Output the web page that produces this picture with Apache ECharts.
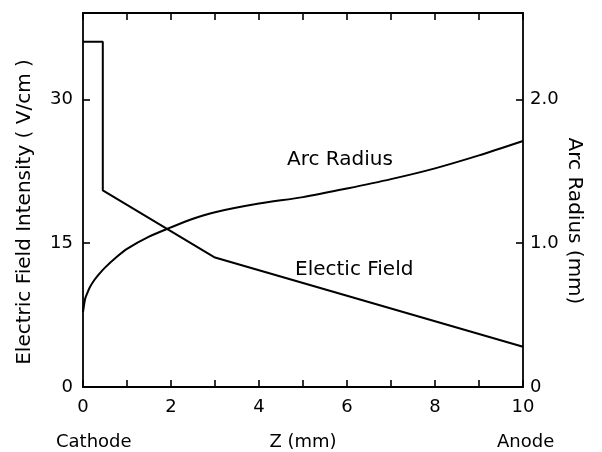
<!DOCTYPE html>
<html>
<head>
<meta charset="utf-8">
<script src="https://cdn.jsdelivr.net/npm/echarts@6/dist/echarts.min.js"></script>
<style>
  html, body { margin: 0; padding: 0; background: #fff; }
  #main { width: 602px; height: 452px; }
</style>
</head>
<body>
<div id="main"></div>
<script>
// electric field (V/cm) along z (mm)
var fieldZ = [0, 0.45, 0.45, 3, 10];
var fieldV = [36, 36, 20.5, 13.5, 4.2];
// arc radius (mm) along z (mm)
var radiusZ = [0, 0.05, 0.1, 0.15, 0.25, 0.35, 0.5, 0.75, 1, 1.5, 2, 2.5, 3, 4, 5, 6, 7, 8, 9, 10];
var radiusR = [0.52, 0.615, 0.655, 0.69, 0.74, 0.78, 0.83, 0.9, 0.96, 1.045, 1.11, 1.17, 1.215, 1.275, 1.32, 1.38, 1.445, 1.52, 1.61, 1.71];

var FONT = 'DejaVu Sans';
var myChart = echarts.init(document.getElementById('main'));

function pairs(xs, ys) {
    var out = [];
    for (var i = 0; i < xs.length; i++) out.push([xs[i], ys[i]]);
    return out;
}
function txt(size) {
    return size + 'px "' + FONT + '"';
}

var axisLine = { show: true, onZero: false, lineStyle: { color: '#000', width: 1.8 } };
var tick = { show: true, inside: true, length: 7, lineStyle: { color: '#000', width: 1.6 } };

var option = {
    animation: false,
    backgroundColor: '#fff',
    grid: { left: 83, right: 79, top: 13, bottom: 65, containLabel: false },
    textStyle: { fontFamily: FONT },
    xAxis: [{
        type: 'value', min: 0, max: 10, interval: 1,
        axisLine: axisLine, axisTick: tick, splitLine: { show: false },
        axisLabel: {
            color: '#000', fontSize: 18, fontFamily: FONT, margin: 11,
            formatter: function (v) { return v % 2 === 0 ? String(v) : ''; }
        }
    }, {
        type: 'value', position: 'top', min: 0, max: 10, interval: 1,
        axisLine: axisLine, axisTick: tick, splitLine: { show: false },
        axisLabel: { show: false }
    }],
    yAxis: [{
        type: 'value', position: 'left', min: 0, max: 39, interval: 15,
        axisLine: axisLine, axisTick: tick, splitLine: { show: false },
        axisLabel: {
            color: '#000', fontSize: 18, fontFamily: FONT, margin: 10,
            formatter: function (v) { return v % 15 === 0 ? String(v) : ''; }
        }
    }, {
        type: 'value', position: 'right', min: 0, max: 2.6, interval: 1,
        axisLine: axisLine, axisTick: tick, splitLine: { show: false },
        axisLabel: {
            color: '#000', fontSize: 18, fontFamily: FONT, margin: 7,
            formatter: function (v) {
                if (v === 0) return '0';
                return Math.abs(v - Math.round(v)) < 1e-6 ? v.toFixed(1) : '';
            }
        }
    }],
    series: [{
        name: 'Electric Field', type: 'line', xAxisIndex: 0, yAxisIndex: 0,
        data: pairs(fieldZ, fieldV), symbol: 'none',
        lineStyle: { color: '#000', width: 2 }
    }, {
        name: 'Arc Radius', type: 'line', xAxisIndex: 0, yAxisIndex: 1,
        data: pairs(radiusZ, radiusR), symbol: 'none', smooth: 0.25,
        lineStyle: { color: '#000', width: 2 }
    }],
    graphic: [
        { type: 'text', x: 25, y: 212, rotation: Math.PI / 2,
          style: { text: 'Electric Field Intensity ( V/cm )', fill: '#000', font: txt(20), align: 'center', verticalAlign: 'middle' } },
        { type: 'text', x: 574, y: 221, rotation: -Math.PI / 2,
          style: { text: 'Arc Radius (mm)', fill: '#000', font: txt(20), align: 'center', verticalAlign: 'middle' } },
        { type: 'text', x: 287, y: 160,
          style: { text: 'Arc Radius', fill: '#000', font: txt(20), align: 'left', verticalAlign: 'middle' } },
        { type: 'text', x: 295, y: 270,
          style: { text: 'Electic Field', fill: '#000', font: txt(20), align: 'left', verticalAlign: 'middle' } },
        { type: 'text', x: 56, y: 442,
          style: { text: 'Cathode', fill: '#000', font: txt(18), align: 'left', verticalAlign: 'middle' } },
        { type: 'text', x: 303, y: 442,
          style: { text: 'Z (mm)', fill: '#000', font: txt(18), align: 'center', verticalAlign: 'middle' } },
        { type: 'text', x: 497, y: 442,
          style: { text: 'Anode', fill: '#000', font: txt(18), align: 'left', verticalAlign: 'middle' } }
    ]
};
myChart.setOption(option);
</script>
</body>
</html>
